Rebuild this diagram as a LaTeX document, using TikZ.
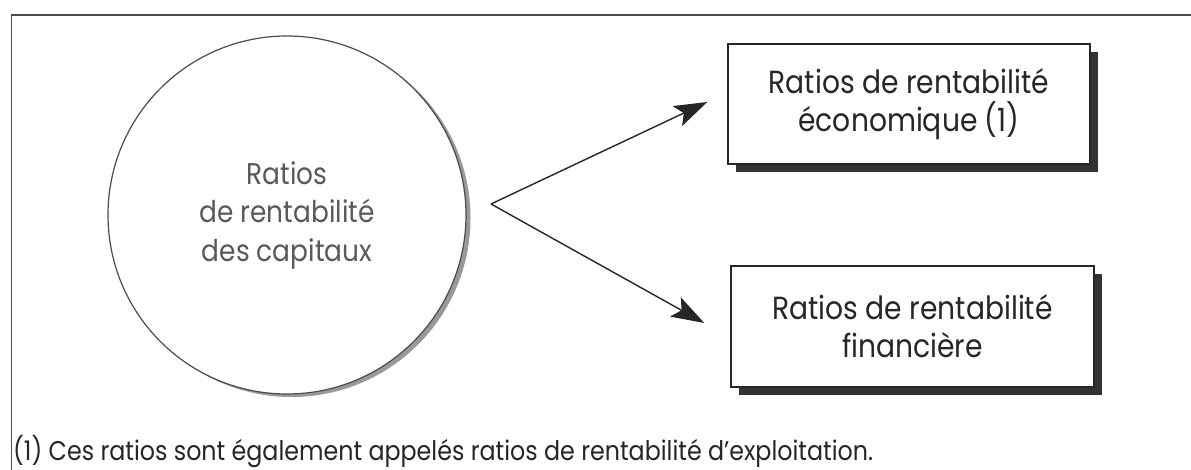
\documentclass[tikz,border=0pt]{standalone}
\usepackage{fontspec}
\setmainfont{Poppins}[FakeStretch=0.88]
\usetikzlibrary{arrows.meta,shapes.geometric}
\begin{document}
\begin{tikzpicture}[x=1pt,y=-1pt,
  frame/.style={draw=black!70,line width=1.6pt},
  boxnode/.style={draw=black!85,line width=1.4pt,fill=white,inner sep=0pt,align=center,
    font=\fontsize{32}{38}\selectfont,text=black!85},
  bubble/.style={circle,draw=black!70,line width=1.2pt,fill=white,inner sep=0pt,
    minimum size=358pt,align=center,
    font=\fontsize{30}{38.5}\selectfont,text=black!65},
  link/.style={draw=black!85,line width=1.4pt,-{Stealth[length=33pt,width=22pt,inset=7pt]}},
  note/.style={anchor=base west,inner sep=0pt,font=\fontsize{27}{30}\selectfont,text=black!85}]
\useasboundingbox (0,0) rectangle (1191,470);
\fill[white] (0,0) rectangle (1191,470);
\draw[frame] (11.5,480) -- (11.5,15) -- (1200,15);
% circle shadow
\fill[black!40] (291.5,218) circle [radius=179pt];
\node[bubble] (c) at (287,215) {Ratios\\de rentabilité\\des capitaux};
% box shadows
\fill[black!80] (736,52) rectangle (1098,172);
\node[boxnode,minimum width=362pt,minimum height=120pt] (b1) at (909,104)
  {Ratios de rentabilité\\économique (1)};
\fill[black!80] (739,274) rectangle (1102,395);
\node[boxnode,minimum width=363pt,minimum height=121pt] (b2) at (912.5,326.5)
  {Ratios de rentabilité\\financière};
\coordinate (v) at (491,204);
\draw[link] (v) -- ([xshift=-20pt,yshift=2pt]b1.west);
\draw[link] (v) -- ([xshift=-26pt,yshift=3.5pt]b2.west);
\node[note] (n) at (13,460) {(1) Ces ratios sont également appelés ratios de rentabilité d’exploitation.};
\end{tikzpicture}
\end{document}
